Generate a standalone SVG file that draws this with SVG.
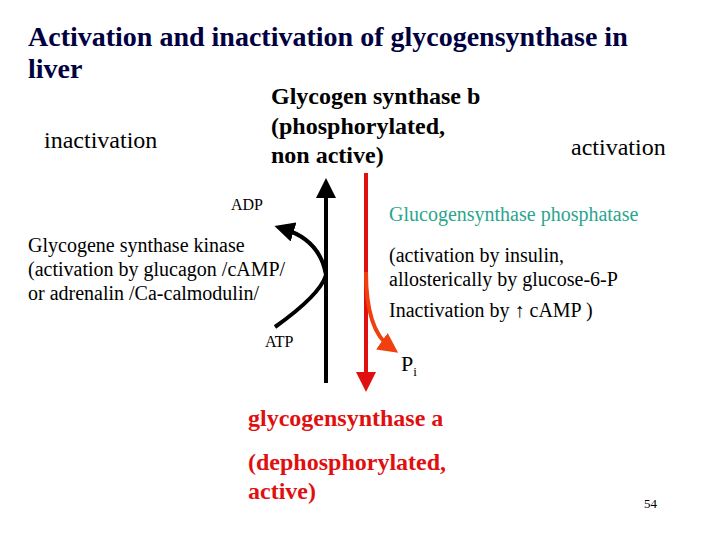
<svg xmlns="http://www.w3.org/2000/svg" width="720" height="540" viewBox="0 0 720 540">
<style>
text{font-family:'Liberation Serif','Times New Roman','DejaVu Serif',serif;fill:#000}
.b{font-weight:bold}
.t{font-size:28px;font-weight:bold;fill:#000040}
.m{font-size:24px}
.s{font-size:20px}
.r{fill:#e01010;font-size:24px;font-weight:bold}
</style>
<defs>
<marker id="ak" viewBox="0 0 10 10" refX="5" refY="5" markerWidth="5" markerHeight="5" orient="auto"><path d="M0,0L10,5L0,10z" fill="#000"/></marker>
<marker id="ar" viewBox="0 0 10 10" refX="5" refY="5" markerWidth="5" markerHeight="5" orient="auto"><path d="M0,0L10,5L0,10z" fill="#e01010"/></marker>
<marker id="ao" viewBox="0 0 10 10" refX="5" refY="5" markerWidth="5" markerHeight="5" orient="auto"><path d="M0,0L10,5L0,10z" fill="#f04010"/></marker>
</defs>
<rect width="720" height="540" fill="#fff"/>
<g id="title"><text class="t" x="28" y="46">Activation and inactivation of glycogensynthase in</text><text class="t" x="28" y="78">liver</text></g>
<g id="gsb"><text class="m b" x="271" y="104">Glycogen synthase b</text><text class="m b" x="271" y="134">(phosphorylated,</text><text class="m b" x="271" y="163">non active)</text></g>
<g id="inact"><text class="m" x="44" y="148">inactivation</text></g>
<g id="act"><text class="m" x="571" y="155">activation</text></g>
<g id="kinase"><text class="s" x="28" y="252">Glycogene synthase kinase</text><text class="s" x="28" y="276">(activation by glucagon /cAMP/</text><text class="s" x="28" y="300">or adrenalin /Ca-calmodulin/</text></g>
<g id="adp"><text x="231" y="210" style="font-size:16px">ADP</text></g>
<g id="atp"><text x="265" y="347" style="font-size:16px">ATP</text></g>
<g id="phosphatase"><text class="s" x="389" y="221" style="fill:#2aa58e">Glucogensynthase phosphatase</text><text class="s" x="389" y="262">(activation by insulin,</text><text class="s" x="389" y="286">allosterically by glucose-6-P</text><text class="s" x="389" y="317">Inactivation by ↑ cAMP )</text></g>
<g id="pi"><text x="401" y="371" style="font-size:22px">P<tspan dy="5" style="font-size:13px">i</tspan></text></g>
<g id="gsa"><text class="r" x="248" y="426">glycogensynthase a</text><text class="r" x="248" y="470">(dephosphorylated,</text><text class="r" x="248" y="499">active)</text></g>
<g id="page"><text x="644" y="508" style="font-size:13px">54</text></g>
<g id="connectors" fill="none" stroke-width="4">
<path d="M326,383V188" stroke="#000" marker-end="url(#ak)"/>
<path d="M366,173V382" stroke="#e01010" marker-end="url(#ar)"/>
<path d="M275,327Q320,295 326,275Q320,240 284,229" stroke="#000" marker-end="url(#ak)"/>
<path d="M366,272Q366,330 390,347" stroke="#f04010" marker-end="url(#ao)"/>
</g>
</svg>
